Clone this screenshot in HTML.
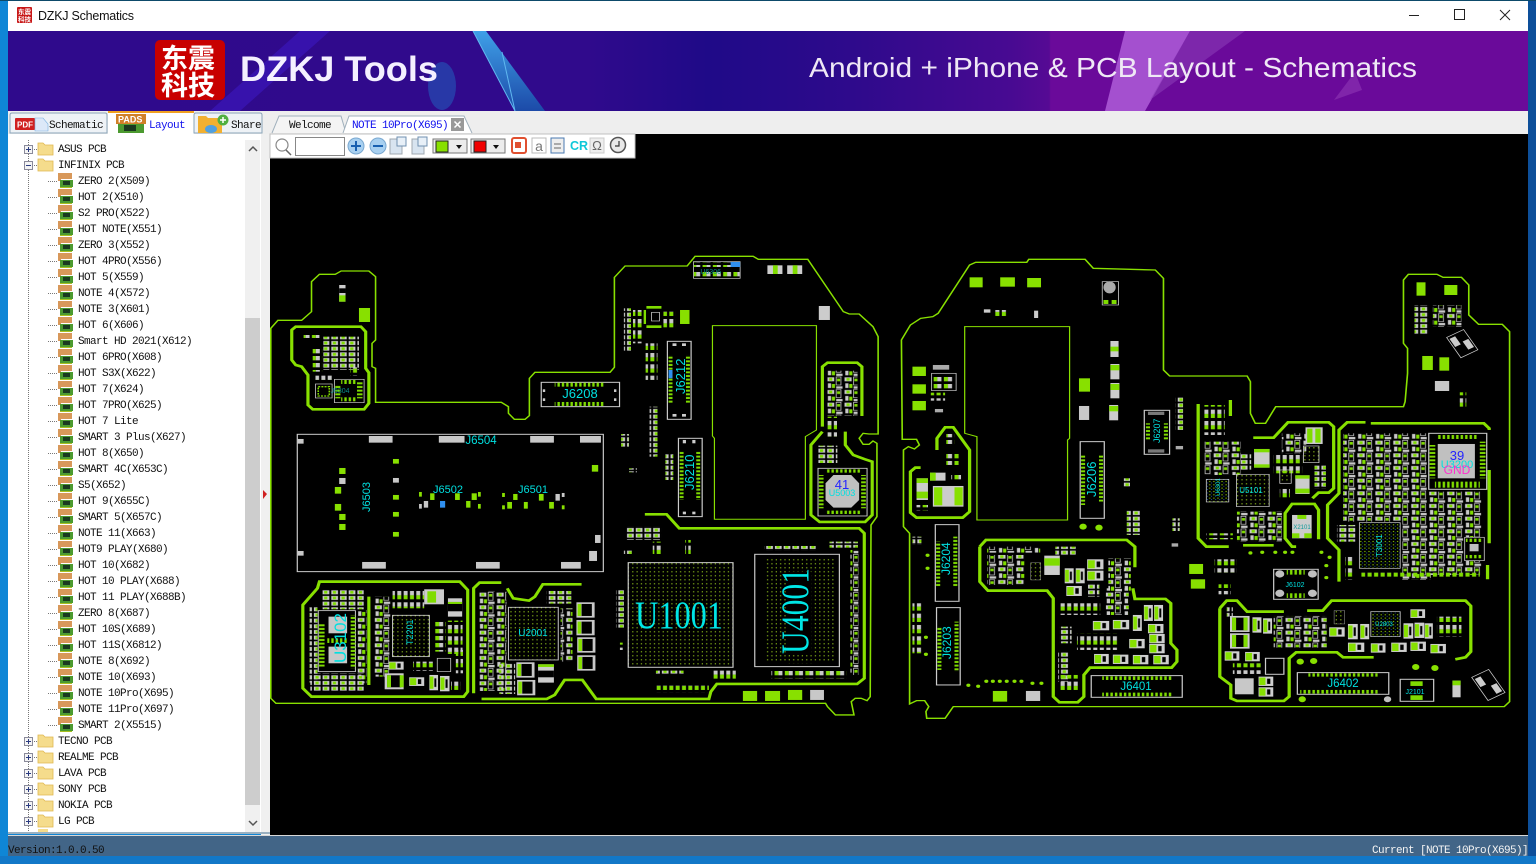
<!DOCTYPE html>
<html><head><meta charset="utf-8"><title>DZKJ Schematics</title>
<style>
html,body{margin:0;padding:0;width:1536px;height:864px;overflow:hidden;background:#0f86d6}
svg{display:block}
.m{font-family:"Liberation Mono","Noto Sans CJK SC",monospace;font-size:11px;letter-spacing:-.6px;fill:#111}
.l{font-family:"Liberation Sans",sans-serif;fill:#00e0e0}
.s{font-family:"Liberation Serif",serif;fill:#00e6e6}
</style></head><body>
<svg width="1536" height="864" viewBox="0 0 1536 864" xmlns="http://www.w3.org/2000/svg">
<defs>
<linearGradient id="hd" x1="0" x2="1" y1="0" y2="0">
<stop offset="0" stop-color="#2f0a8c"/><stop offset=".38" stop-color="#300a8c"/><stop offset=".46" stop-color="#1f0a88"/><stop offset=".56" stop-color="#2f0a8c"/><stop offset=".66" stop-color="#480a92"/><stop offset=".685" stop-color="#560a94"/><stop offset=".686" stop-color="#6a0a9a"/><stop offset="1" stop-color="#6a0a9a"/>
</linearGradient>
<linearGradient id="gl" x1="0" x2="0" y1="0" y2="1"><stop offset="0" stop-color="#3fa0e8"/><stop offset="1" stop-color="#1c4aa8"/></linearGradient>
<pattern id="a" width="26" height="21" patternUnits="userSpaceOnUse"><rect x="2" y="3" width="10" height="13" fill="#7fdc00"/><rect x="12" y="3" width="10" height="13" fill="#c8c8c8"/></pattern>
<pattern id="b" width="16" height="34" patternUnits="userSpaceOnUse"><rect x="2" y="3" width="10" height="13" fill="#c8c8c8"/><rect x="2" y="16" width="10" height="12" fill="#7fdc00"/></pattern>
<pattern id="d" width="22" height="17" patternUnits="userSpaceOnUse"><rect x="1" y="1" width="17" height="12" fill="#c8c8c8"/><rect x="5" y="3" width="8" height="8" fill="#7fdc00"/></pattern>
<pattern id="e" width="44" height="38" patternUnits="userSpaceOnUse"><rect x="1" y="2" width="18" height="12" fill="#c8c8c8"/><rect x="6" y="4" width="8" height="8" fill="#7fdc00"/><rect x="24" y="1" width="12" height="24" fill="none" stroke="#c8c8c8" stroke-width="2"/><rect x="26" y="6" width="8" height="8" fill="#7fdc00"/><rect x="3" y="20" width="8" height="14" fill="#c8c8c8"/><rect x="13" y="22" width="8" height="12" fill="#7fdc00"/><rect x="24" y="29" width="16" height="7" fill="#c8c8c8"/></pattern>
<pattern id="P" patternUnits="objectBoundingBox" patternContentUnits="objectBoundingBox" width="1" height="1"><rect width="1" height="1" fill="#cfcfcf"/><rect x=".05" y=".1" width=".42" height=".8" fill="#86e000"/><rect x=".58" y=".22" width=".22" height=".56" fill="#000"/></pattern>
<pattern id="g" width="11" height="12" patternUnits="userSpaceOnUse"><rect x="3" y="4" width="3" height="3" fill="#a4dc20"/></pattern>
<pattern id="h" width="10" height="10" patternUnits="userSpaceOnUse"><rect x="2" y="3" width="3" height="3" fill="#90d800"/><rect x="7" y="8" width="2" height="2" fill="#3090f0"/></pattern>
<pattern id="ts" width="11" height="12" patternUnits="userSpaceOnUse"><rect x="1" width="6" height="12" fill="#7fdc00"/></pattern>
<pattern id="tv" width="12" height="11" patternUnits="userSpaceOnUse"><rect y="1" width="12" height="6" fill="#7fdc00"/></pattern>
<pattern id="tree" width="17" height="16" patternUnits="userSpaceOnUse" patternTransform="translate(57 173)">
<rect x="1" y="0" width="14" height="6" fill="#d8985a"/><rect x="1" y="6" width="3" height="2" fill="#d8985a"/><rect x="3" y="7" width="13" height="7" fill="#4c9a30"/><rect x="6" y="8" width="7" height="4" fill="#1a3a20"/><rect x="3" y="14" width="12" height="1" fill="#a8c020"/>
</pattern>
<pattern id="dv" width="2" height="2" patternUnits="userSpaceOnUse"><rect width="1" height="1" fill="#777"/></pattern>
<pattern id="dh" width="2" height="16" patternUnits="userSpaceOnUse" patternTransform="translate(48 181)"><rect width="1" height="1" fill="#777"/></pattern>
<g id="fold"><path d="M0 2h5l2 2h8v10H0z" fill="#f5dc8c" stroke="#e0b850" stroke-width=".8"/></g>
<g id="plus"><rect x=".5" y=".5" width="8" height="8" fill="#f4f4f4" stroke="#8a8a9a"/><path d="M2 4.5h5M4.5 2v5" stroke="#2a3a80"/><path d="M10 4.500h4" stroke="#777" stroke-dasharray="1 1"/></g>
<g id="minus"><rect x=".5" y=".5" width="8" height="8" fill="#f4f4f4" stroke="#8a8a9a"/><path d="M2 4.5h5" stroke="#2a3a80"/><path d="M10 4.500h4" stroke="#777" stroke-dasharray="1 1"/></g>
</defs>

<!-- frame -->
<rect width="1536" height="864" fill="#0f86d6"/>
<rect x="1528" width="8" height="864" fill="#0d4f9a"/>
<rect x="0" y="856" width="1536" height="8" fill="#1278c8"/>
<rect width="1536" height="1" fill="#0d4a6a"/>
<rect x="8" y="1" width="1520" height="30" fill="#fff"/>
<rect x="17" y="7" width="15" height="16" rx="1" fill="#c81818"/>
<text x="18" y="14" font-family="'Noto Sans CJK SC',sans-serif" font-size="6.5" font-weight="700" fill="#fff">东震</text>
<text x="18" y="21.5" font-family="'Noto Sans CJK SC',sans-serif" font-size="6.5" font-weight="700" fill="#fff">科技</text>
<text x="38" y="20" font-family="'Liberation Sans',sans-serif" font-size="12.5" fill="#111" textLength="96">DZKJ Schematics</text>
<path d="M1409 15.5h10" stroke="#222"/><rect x="1454.5" y="9.5" width="10" height="10" fill="none" stroke="#222"/><path d="M1500 10l10 10M1510 10l-10 10" stroke="#222"/>

<!-- banner -->
<rect x="8" y="31" width="1520" height="80" fill="url(#hd)"/>
<polygon points="210,111 300,31 330,31 240,111" fill="#3a14b4" opacity=".8"/>
<polygon points="473,31 486,31 545,111 515,111" fill="url(#gl)"/>
<path d="M473 31L515 111M502 52L515 111" stroke="#60b8f0" fill="none"/>
<ellipse cx="442" cy="86" rx="14" ry="24" fill="#2070c8" opacity=".45"/>
<polygon points="1125,31 1190,31 1145,111 1105,111" fill="#b868e0" opacity=".75"/>
<polygon points="1190,31 1245,31 1150,100" fill="#8a3ab8" opacity=".6"/>
<polygon points="1355,72 1362,90 1334,100" fill="#8a30b0" opacity=".7"/>
<rect x="155" y="40" width="70" height="60" rx="5" fill="#c80000"/>
<g font-family="'Noto Sans CJK SC',sans-serif" font-size="27" font-weight="700" fill="#fff">
<text x="161" y="68">东震</text><text x="161" y="95">科技</text></g>
<text x="240" y="81" font-family="'Liberation Sans',sans-serif" font-size="35" font-weight="700" fill="#f4f0ff" textLength="198" lengthAdjust="spacingAndGlyphs">DZKJ Tools</text>
<text x="809" y="77" font-family="'Liberation Sans',sans-serif" font-size="28" fill="#efe8f5" textLength="608" lengthAdjust="spacingAndGlyphs">Android + iPhone &amp; PCB Layout - Schematics</text>

<!-- tab strip -->
<rect x="8" y="111" width="1520" height="23" fill="#eeeeee"/>
<path d="M10 133v-18q0-2 2-2h93q2 0 2 2v18z" fill="#eef2f6" stroke="#8aa4b8"/>
<rect x="15" y="118" width="20" height="12" rx="1" fill="#d02020"/><text x="17" y="127.5" font-family="'Liberation Sans',sans-serif" font-size="8" font-weight="700" fill="#fff">PDF</text>
<polygon points="35,118 43,118 48,124 48,131 35,131" fill="#dce8f8" stroke="#7ab0e0" stroke-width=".6"/>
<text x="49" y="128" class="m">Schematic</text>
<rect x="108" y="112" width="86" height="22" fill="#fff"/><rect x="108" y="111" width="86" height="2" fill="#f0a020"/>
<rect x="116" y="114" width="30" height="10" fill="#d08028"/><text x="118" y="122.5" font-family="'Liberation Sans',sans-serif" font-size="9" font-weight="700" fill="#fff">PADS</text>
<rect x="118" y="124" width="26" height="9" fill="#4c9a30"/><rect x="124" y="125" width="12" height="6" fill="#1a3a20"/>
<text x="149" y="128" class="m" style="fill:#1010ee">Layout</text>
<path d="M194 133v-18q0-2 2-2h64q2 0 2 2v18z" fill="#eef2f6" stroke="#8aa4b8"/>
<path d="M198 116h8l2 2h14v15h-24z" fill="#f2b030"/><ellipse cx="211" cy="129" rx="6" ry="4" fill="#50a0e0"/><circle cx="223" cy="120" r="5.5" fill="#50b040"/><path d="M220 120h6M223 117v6" stroke="#fff" stroke-width="1.5"/>
<text x="231" y="128" class="m">Share</text>
<path d="M272 133l7-17h62l5 17" fill="#f4f4f4" stroke="#a0b0bc"/>
<text x="289" y="128" class="m">Welcome</text>
<path d="M343 133l6-17h115l8 17" fill="#fff" stroke="#a0b0bc"/>
<text x="352" y="128" class="m" style="fill:#1010ee">NOTE 10Pro(X695)</text>
<rect x="451" y="118" width="13" height="13" fill="#999"/><path d="M454.500 121.500l6 6M460.500 121.500l-6 6" stroke="#fff" stroke-width="1.500"/>

<!-- sidebar -->
<rect x="8" y="134" width="253" height="698" fill="#fff"/>
<rect x="261" y="134" width="9" height="702" fill="#f0f0f0"/>
<polygon points="263,490 267,494 263,499" fill="#d02020"/>
<rect x="245" y="140" width="15" height="692" fill="#f0f0f0"/><rect x="245" y="318" width="15" height="487" fill="#cdcdcd"/>
<path d="M249 151l4-4 4 4M249 821l4 4 4-4" fill="none" stroke="#555" stroke-width="1.500"/>
<rect x="8" y="832" width="262" height="2" fill="#9ab0c0"/>
<rect x="28" y="140" width="1" height="692" fill="url(#dv)"/>
<rect x="47" y="172" width="1" height="552" fill="url(#dv)"/>
<rect x="48" y="181" width="9" height="545" fill="url(#dh)"/>
<rect x="57" y="173" width="17" height="560" fill="url(#tree)"/>
<use href="#plus" x="24" y="145"/><use href="#fold" x="38" y="141"/>
<use href="#minus" x="24" y="161"/><use href="#fold" x="38" y="157"/>
<use href="#plus" x="24" y="737"/><use href="#fold" x="38" y="733"/>
<use href="#plus" x="24" y="753"/><use href="#fold" x="38" y="749"/>
<use href="#plus" x="24" y="769"/><use href="#fold" x="38" y="765"/>
<use href="#plus" x="24" y="785"/><use href="#fold" x="38" y="781"/>
<use href="#plus" x="24" y="801"/><use href="#fold" x="38" y="797"/>
<use href="#plus" x="24" y="817"/><use href="#fold" x="38" y="813"/>
<rect x="38" y="829" width="10" height="3" fill="#f5dc8c"/>
<g class="m" transform="translate(0 -1)">
<text x="58" y="153" class="m">ASUS PCB</text><text x="58" y="169" class="m">INFINIX PCB</text>
<text x="78" y="185" class="m">ZERO 2(X509)</text><text x="78" y="201" class="m">HOT 2(X510)</text><text x="78" y="217" class="m">S2 PRO(X522)</text><text x="78" y="233" class="m">HOT NOTE(X551)</text><text x="78" y="249" class="m">ZERO 3(X552)</text><text x="78" y="265" class="m">HOT 4PRO(X556)</text><text x="78" y="281" class="m">HOT 5(X559)</text><text x="78" y="297" class="m">NOTE 4(X572)</text><text x="78" y="313" class="m">NOTE 3(X601)</text><text x="78" y="329" class="m">HOT 6(X606)</text><text x="78" y="345" class="m">Smart HD 2021(X612)</text><text x="78" y="361" class="m">HOT 6PRO(X608)</text><text x="78" y="377" class="m">HOT S3X(X622)</text><text x="78" y="393" class="m">HOT 7(X624)</text><text x="78" y="409" class="m">HOT 7PRO(X625)</text><text x="78" y="425" class="m">HOT 7 Lite</text><text x="78" y="441" class="m">SMART 3 Plus(X627)</text><text x="78" y="457" class="m">HOT 8(X650)</text><text x="78" y="473" class="m">SMART 4C(X653C)</text><text x="78" y="489" class="m">S5(X652)</text><text x="78" y="505" class="m">HOT 9(X655C)</text><text x="78" y="521" class="m">SMART 5(X657C)</text><text x="78" y="537" class="m">NOTE 11(X663)</text><text x="78" y="553" class="m">HOT9 PLAY(X680)</text><text x="78" y="569" class="m">HOT 10(X682)</text><text x="78" y="585" class="m">HOT 10 PLAY(X688)</text><text x="78" y="601" class="m">HOT 11 PLAY(X688B)</text><text x="78" y="617" class="m">ZERO 8(X687)</text><text x="78" y="633" class="m">HOT 10S(X689)</text><text x="78" y="649" class="m">HOT 11S(X6812)</text><text x="78" y="665" class="m">NOTE 8(X692)</text><text x="78" y="681" class="m">NOTE 10(X693)</text><text x="78" y="697" class="m">NOTE 10Pro(X695)</text><text x="78" y="713" class="m">NOTE 11Pro(X697)</text><text x="78" y="729" class="m">SMART 2(X5515)</text>
<text x="58" y="745" class="m">TECNO PCB</text><text x="58" y="761" class="m">REALME PCB</text><text x="58" y="777" class="m">LAVA PCB</text><text x="58" y="793" class="m">SONY PCB</text><text x="58" y="809" class="m">NOKIA PCB</text><text x="58" y="825" class="m">LG PCB</text>
</g>

<!-- canvas -->
<rect x="270" y="134" width="1258" height="701" fill="#000"/>

<!-- left board -->
<g transform="translate(270 250) scale(.3954 .3333)">
<path d="M2 235L20 211H80L105 185V95L125 73H165L180 63H250L267 80V270L258 280V350L267 355V457H585L603 470V490L618 508H645L656 497V385L670 367H860L871 352V82L898 48H1055L1075 19H1222L1235 28H1360L1450 185L1465 192H1490L1525 230L1538 260V552H1515L1500 550L1490 565L1500 583H1515L1525 573L1535 580V800L1520 825L1518 1340L1510 1352L1495 1345H1480L1470 1355L1477 1395H1430L1410 1370L1405 1360H15L2 1345Z" fill="none" stroke="#88e000" stroke-width="4"/>
<path d="M1119 227H1382V540L1354 560V808H1124V565L1119 558Z" fill="none" stroke="#88e000" stroke-width="3"/>
<g fill="none" stroke="#88e000" stroke-width="8">
<path d="M55 240L65 230H230L242 245V355L250 368V460L238 478H108L96 465V375L80 350L65 345L55 330Z"/>
<path d="M1397 530V350L1410 338H1485L1497 350V498M1397 545L1368 585V795L1390 816H1505L1523 795V635L1505 628L1475 615L1455 585V545"/>
<path d="M948 793H1003L1035 835H1490L1503 850V1285L1485 1302H1130L1115 1325L1110 1347H825L790 1290H745L720 1335L700 1347H535"/>
<path d="M83 1065L120 1015L125 995H480L500 1020V1325L490 1340H105L83 1315Z"/>
<path d="M515 1330V1015L530 998H585M600 1015L615 1045L655 1052L670 1040L690 1003H788"/>
<path d="M250 1040V1305"/>
</g>
<!-- J6304 block -->
<rect x="85" y="255" width="40" height="9" fill="url(#a)"/>
<rect x="135" y="260" width="90" height="100" fill="url(#d)"/>
<rect x="108" y="295" width="24" height="70" fill="url(#a)"/>
<rect x="115" y="372" width="42" height="18" fill="url(#b)"/><rect x="203" y="352" width="22" height="26" fill="url(#b)"/>
<rect x="115" y="402" width="42" height="42" fill="#000" stroke="#ccc" stroke-width="2"/><rect x="122" y="410" width="28" height="28" fill="none" stroke="#7fdc00" stroke-width="4" stroke-dasharray="5 3"/>
<rect x="163" y="388" width="75" height="70" fill="#000" stroke="#ccc" stroke-width="2"/>
<rect x="180" y="390" width="40" height="12" fill="url(#ts)"/><rect x="180" y="442" width="40" height="12" fill="url(#ts)"/><rect x="165" y="405" width="13" height="40" fill="url(#tv)"/><rect x="220" y="395" width="14" height="50" fill="url(#tv)"/>
<rect x="175" y="105" width="16" height="50" fill="#ccc"/><rect x="175" y="115" width="16" height="14" fill="#000"/><rect x="175" y="136" width="16" height="19" fill="#7fdc00"/>
<rect x="225" y="174" width="28" height="42" fill="#88e000"/>
<!-- J6306 top -->
<rect x="1071" y="35" width="118" height="50" fill="none" stroke="#ccc" stroke-width="2"/>
<rect x="1072" y="36" width="116" height="15" fill="url(#a)"/><rect x="1072" y="66" width="116" height="15" fill="url(#a)"/><rect x="1165" y="36" width="24" height="15" fill="#3090f0"/>
<rect x="1258" y="46" width="38" height="26" fill="#ccc"/><rect x="1272" y="46" width="12" height="26" fill="#7fdc00"/><rect x="1308" y="46" width="38" height="26" fill="#ccc"/><rect x="1322" y="46" width="12" height="26" fill="#7fdc00"/>
<rect x="1388" y="168" width="28" height="42" fill="#ccc"/>
<rect x="1037" y="180" width="24" height="42" fill="#88e000"/>
<rect x="952" y="168" width="38" height="8" fill="#7fdc00"/><rect x="952" y="226" width="38" height="8" fill="#7fdc00"/><rect x="945" y="180" width="6" height="42" fill="#7fdc00"/><rect x="965" y="187" width="20" height="26" fill="none" stroke="#ccc" stroke-width="2"/>
<rect x="895" y="175" width="18" height="128" fill="url(#d)"/><rect x="918" y="180" width="22" height="100" fill="url(#b)"/><rect x="995" y="185" width="30" height="55" fill="url(#b)"/>
<rect x="950" y="280" width="30" height="110" fill="url(#b)"/>
<!-- J6212 / J6210 -->
<rect x="1005" y="274" width="60" height="234" fill="#000" stroke="#ccc" stroke-width="3"/>
<rect x="1008" y="315" width="10" height="145" fill="url(#tv)"/><rect x="1052" y="315" width="10" height="145" fill="url(#tv)"/><rect x="1008" y="360" width="10" height="25" fill="#3090f0"/>
<rect x="1018" y="280" width="10" height="8" fill="#ccc"/><rect x="1042" y="280" width="10" height="8" fill="#ccc"/><rect x="1018" y="492" width="10" height="8" fill="#ccc"/><rect x="1042" y="492" width="10" height="8" fill="#ccc"/>
<rect x="1033" y="565" width="60" height="235" fill="#000" stroke="#ccc" stroke-width="3"/>
<rect x="1036" y="605" width="10" height="145" fill="url(#tv)"/><rect x="1078" y="605" width="10" height="145" fill="url(#tv)"/>
<rect x="1044" y="570" width="8" height="10" fill="#ccc"/><rect x="1068" y="570" width="8" height="10" fill="#ccc"/><rect x="1044" y="785" width="8" height="8" fill="#ccc"/><rect x="1068" y="785" width="8" height="8" fill="#ccc"/>
<rect x="960" y="470" width="20" height="150" fill="url(#d)"/><rect x="888" y="552" width="20" height="38" fill="url(#d)"/><rect x="1000" y="610" width="20" height="80" fill="url(#d)"/><rect x="908" y="655" width="20" height="12" fill="url(#d)"/>
<!-- J6208 -->
<rect x="686" y="397" width="198" height="73" fill="#000" stroke="#ccc" stroke-width="3"/>
<rect x="720" y="398" width="125" height="12" fill="url(#ts)"/><rect x="720" y="456" width="125" height="12" fill="url(#ts)"/>
<rect x="690" y="418" width="6" height="8" fill="#ccc"/><rect x="690" y="445" width="6" height="8" fill="#ccc"/><rect x="870" y="418" width="6" height="8" fill="#ccc"/><rect x="870" y="445" width="6" height="8" fill="#ccc"/>
<!-- J6504 box -->
<rect x="69" y="553" width="774" height="412" fill="none" stroke="#ccc" stroke-width="3"/>
<g fill="#c8c8c8"><rect x="250" y="558" width="60" height="20"/><rect x="427" y="558" width="65" height="20"/><rect x="658" y="558" width="60" height="20"/><rect x="784" y="558" width="53" height="20"/><rect x="233" y="936" width="60" height="20"/><rect x="521" y="936" width="60" height="20"/><rect x="736" y="936" width="50" height="20"/><rect x="70" y="567" width="15" height="14"/><rect x="70" y="903" width="15" height="14"/><rect x="822" y="855" width="14" height="24"/><rect x="807" y="903" width="20" height="30"/><rect x="175" y="684" width="16" height="18"/><rect x="311" y="684" width="15" height="14"/><rect x="389" y="753" width="11" height="20"/><rect x="377" y="762" width="7" height="14"/><rect x="722" y="732" width="11" height="20"/><rect x="738" y="729" width="7" height="12"/></g>
<g fill="#88e000"><rect x="175" y="654" width="16" height="18"/><rect x="164" y="711" width="16" height="20"/><rect x="164" y="762" width="16" height="20"/><rect x="175" y="792" width="16" height="18"/><rect x="175" y="822" width="16" height="18"/><rect x="311" y="627" width="15" height="14"/><rect x="311" y="735" width="15" height="14"/><rect x="311" y="786" width="15" height="14"/><rect x="311" y="846" width="15" height="14"/><rect x="814" y="645" width="16" height="20"/><rect x="377" y="726" width="7" height="14"/><rect x="405" y="730" width="11" height="20"/><rect x="468" y="730" width="12" height="20"/><rect x="510" y="730" width="13" height="20"/><rect x="526" y="726" width="7" height="14"/><rect x="496" y="753" width="11" height="20"/><rect x="526" y="762" width="7" height="14"/><rect x="587" y="729" width="7" height="12"/><rect x="615" y="732" width="11" height="18"/><rect x="680" y="732" width="12" height="20"/><rect x="587" y="766" width="7" height="12"/><rect x="600" y="756" width="12" height="20"/><rect x="642" y="756" width="10" height="20"/><rect x="706" y="756" width="12" height="20"/><rect x="738" y="766" width="7" height="12"/><rect x="1196" y="1323" width="36" height="30"/><rect x="1252" y="1323" width="38" height="30"/><rect x="1310" y="1320" width="36" height="30"/></g>
<rect x="430" y="753" width="13" height="20" fill="#3090f0"/>
<rect x="1366" y="1320" width="35" height="30" fill="#c8c8c8"/>
<!-- U5003 block -->
<rect x="1410" y="362" width="76" height="135" fill="url(#e)"/>
<rect x="1410" y="500" width="24" height="60" fill="url(#b)"/>
<rect x="1385" y="587" width="50" height="52" fill="url(#d)"/>
<rect x="1386" y="655" width="124" height="143" fill="#000" stroke="#ccc" stroke-width="2.500"/>
<rect x="1405" y="658" width="90" height="10" fill="url(#ts)"/><rect x="1405" y="782" width="90" height="10" fill="url(#ts)"/><rect x="1388" y="675" width="12" height="100" fill="url(#tv)"/><rect x="1495" y="675" width="12" height="100" fill="url(#tv)"/>
<polygon points="1425,675 1470,675 1490,700 1490,750 1470,773 1425,773 1405,750 1405,700" fill="#c0c0c0"/>
<!-- U1001 U4001 -->
<rect x="906" y="938" width="265" height="314" fill="url(#g)" stroke="#ccc" stroke-width="3"/>
<rect x="1226" y="913" width="214" height="337" fill="#000" stroke="#ccc" stroke-width="3"/>
<rect x="1250" y="925" width="60" height="310" fill="url(#g)"/><rect x="1370" y="925" width="60" height="310" fill="url(#g)"/><rect x="1310" y="925" width="60" height="40" fill="url(#g)"/><rect x="1310" y="1210" width="60" height="30" fill="url(#g)"/>
<rect x="900" y="830" width="90" height="40" fill="url(#d)"/><rect x="895" y="900" width="20" height="12" fill="url(#d)"/><rect x="968" y="875" width="22" height="40" fill="url(#b)"/><rect x="1050" y="870" width="14" height="50" fill="url(#b)"/>
<rect x="1250" y="888" width="130" height="13" fill="url(#d)"/><rect x="1415" y="875" width="72" height="18" fill="url(#d)"/>
<rect x="1468" y="900" width="20" height="375" fill="url(#e)"/>
<rect x="875" y="1018" width="20" height="115" fill="url(#d)"/><rect x="885" y="1178" width="10" height="22" fill="url(#b)"/>
<rect x="976" y="1262" width="70" height="13" fill="url(#d)"/><rect x="1118" y="1262" width="60" height="28" fill="url(#b)"/>
<rect x="975" y="1307" width="135" height="22" fill="url(#b)"/>
<rect x="1268" y="1263" width="190" height="22" fill="url(#a)"/>
<!-- bottom-left block -->
<rect x="132" y="1018" width="105" height="60" fill="url(#d)"/>
<rect x="100" y="1068" width="20" height="230" fill="url(#d)"/>
<rect x="122" y="1082" width="94" height="183" fill="#000" stroke="#ccc" stroke-width="2.500"/>
<rect x="124" y="1120" width="14" height="130" fill="url(#tv)"/><rect x="204" y="1095" width="12" height="160" fill="url(#tv)"/>
<rect x="148" y="1100" width="47" height="50" fill="#c8c8c8"/><rect x="148" y="1190" width="47" height="50" fill="#c8c8c8"/><rect x="145" y="1165" width="50" height="14" fill="url(#ts)"/>
<rect x="222" y="1080" width="22" height="220" fill="url(#e)"/><rect x="102" y="1270" width="135" height="55" fill="url(#d)"/>
<rect x="262" y="1040" width="44" height="60" fill="url(#e)"/><rect x="262" y="1100" width="40" height="180" fill="url(#e)"/>
<rect x="310" y="1020" width="80" height="55" fill="url(#b)"/>
<rect x="310" y="1096" width="93" height="124" fill="url(#g)" stroke="#ccc" stroke-width="2.500"/>
<rect x="415" y="1115" width="30" height="90" fill="url(#a)"/><rect x="447" y="1112" width="40" height="100" fill="url(#b)"/><rect x="470" y="1200" width="18" height="70" fill="url(#b)"/>
<rect x="390" y="1018" width="50" height="45" fill="#ccc"/><rect x="398" y="1024" width="22" height="34" fill="#7fdc00"/>
<rect x="450" y="1045" width="36" height="55" fill="#ccc"/><rect x="450" y="1056" width="36" height="28" fill="#000"/><rect x="450" y="1056" width="36" height="6" fill="#7fdc00"/>
<rect x="290" y="1270" width="48" height="48" fill="#ccc"/><rect x="296" y="1276" width="36" height="36" fill="#000"/><rect x="296" y="1276" width="10" height="36" fill="#7fdc00"/><rect x="328" y="1276" width="10" height="36" fill="#7fdc00"/>
<rect x="300" y="1235" width="38" height="24" fill="url(#P)"/>
<rect x="352" y="1282" width="38" height="26" fill="url(#P)"/><rect x="403" y="1275" width="22" height="46" fill="url(#P)"/><rect x="430" y="1278" width="24" height="46" fill="url(#P)"/><rect x="458" y="1290" width="24" height="30" fill="url(#b)"/>
<rect x="423" y="1225" width="34" height="40" fill="none" stroke="#ccc" stroke-width="2"/>
<rect x="362" y="1235" width="50" height="28" fill="url(#b)"/>
<!-- U2001 block -->
<rect x="530" y="1023" width="68" height="300" fill="url(#e)"/>
<rect x="603" y="1072" width="126" height="158" fill="url(#g)" stroke="#ccc" stroke-width="2.500"/>
<rect x="700" y="1023" width="62" height="38" fill="url(#d)"/><rect x="735" y="1075" width="30" height="160" fill="url(#e)"/>
<rect x="580" y="1240" width="40" height="92" fill="url(#d)"/>
<g fill="#c8c8c8"><rect x="775" y="1057" width="46" height="46"/><rect x="775" y="1110" width="46" height="46"/><rect x="777" y="1162" width="46" height="46"/><rect x="777" y="1216" width="46" height="46"/><rect x="623" y="1237" width="46" height="46"/><rect x="625" y="1290" width="46" height="46"/></g>
<g fill="#000"><rect x="788" y="1062" width="26" height="36"/><rect x="788" y="1115" width="26" height="36"/><rect x="790" y="1167" width="26" height="36"/><rect x="790" y="1221" width="26" height="36"/><rect x="636" y="1242" width="26" height="36"/><rect x="638" y="1295" width="26" height="36"/></g>
<g fill="#86e000"><rect x="778" y="1062" width="9" height="36"/><rect x="778" y="1115" width="9" height="36"/><rect x="780" y="1167" width="9" height="36"/><rect x="780" y="1221" width="9" height="36"/><rect x="626" y="1242" width="9" height="36"/><rect x="628" y="1295" width="9" height="36"/></g>
<rect x="678" y="1243" width="40" height="55" fill="#ccc"/><rect x="678" y="1262" width="40" height="20" fill="#000"/><rect x="678" y="1243" width="40" height="8" fill="#7fdc00"/>
</g>

<!-- right board -->
<g transform="translate(890 250) scale(.40816 .3333)">
<path d="M33 830V600L45 590L60 597L72 585L65 568H30L28 270L50 225L75 205L105 200L118 190L195 45L210 37H335L340 28H478L498 55L650 60L670 85V360L685 378H875L883 395V490L895 520H920L935 490L945 470H1258L1262 455L1268 370V295L1258 280V90L1270 73H1340L1355 82H1400L1418 105V195L1442 223H1500L1518 245V1355L1505 1370H155L135 1405H90L88 1385L95 1370L85 1352H65L48 1362V850Z" fill="none" stroke="#88e000" stroke-width="4"/>
<path d="M183 230H440V565L435 570V810H213V560L183 550Z" fill="none" stroke="#88e000" stroke-width="3"/>
<g fill="none" stroke="#88e000" stroke-width="8">
<path d="M115 600V565L135 532H155L195 600V785L178 803H65L50 788V665L62 653H75"/>
<path d="M220 890L235 870H580L600 890V952M220 890V995L240 1022H385L400 1045V1340L415 1357H460L475 1340V1275L490 1253H690L703 1235V1200L688 1180V1060L675 1047H600L595 1015"/>
<path d="M755 462V865L775 890H830M865 886H940M890 563H940L975 517H1075L1087 530V715L1075 728H1050L1035 745"/>
<path d="M1050 868V780L1040 762H985L968 790V865L985 890H995"/>
<path d="M834 450V498M1100 995V900L1072 865V765L1100 730V540L1120 517H1165M1178 520H1455L1468 535V540M1468 660V880M1464 945V988"/>
<path d="M808 1075L825 1052H850L875 1085H965M1022 1082H1060L1082 1052H1410L1423 1068V1205L1410 1222L1385 1228M808 1075V1280L835 1305V1345L850 1353H965L978 1340V1225L995 1207H1095L1110 1222H1185"/>
</g>
<g fill="#88e000"><rect x="195" y="82" width="32" height="30"/><rect x="270" y="82" width="36" height="28"/><rect x="336" y="84" width="34" height="28"/><rect x="55" y="350" width="33" height="28"/><rect x="55" y="403" width="33" height="28"/><rect x="55" y="453" width="33" height="28"/><rect x="463" y="385" width="27" height="40"/><rect x="733" y="942" width="34" height="30"/><rect x="737" y="988" width="35" height="28"/><rect x="252" y="1323" width="35" height="32"/><rect x="1290" y="97" width="22" height="40"/><rect x="1358" y="105" width="32" height="30"/><rect x="1304" y="318" width="26" height="42"/><rect x="1346" y="322" width="24" height="40"/></g>
<g fill="#c8c8c8"><rect x="463" y="468" width="25" height="42"/><rect x="333" y="1323" width="35" height="30"/><rect x="1335" y="393" width="35" height="30"/></g>
<!-- screw top -->
<rect x="520" y="95" width="40" height="70" fill="#000" stroke="#ccc" stroke-width="2"/><ellipse cx="538" cy="112" rx="15" ry="18" fill="#aaa"/><rect x="523" y="150" width="12" height="12" fill="#7fdc00"/><rect x="543" y="150" width="12" height="12" fill="#7fdc00"/>
<rect x="255" y="180" width="32" height="24" fill="url(#b)"/><rect x="230" y="178" width="16" height="10" fill="#ccc"/><rect x="353" y="182" width="10" height="22" fill="#ccc"/>
<g><rect x="540" y="273" width="20" height="48" fill="#ccc"/><rect x="540" y="290" width="20" height="14" fill="#7fdc00"/><rect x="540" y="342" width="22" height="46" fill="#ccc"/><rect x="540" y="345" width="22" height="16" fill="#7fdc00"/><rect x="540" y="399" width="22" height="46" fill="#ccc"/><rect x="540" y="402" width="22" height="18" fill="#7fdc00"/><rect x="537" y="465" width="22" height="46" fill="#ccc"/><rect x="537" y="468" width="22" height="16" fill="#7fdc00"/></g>
<rect x="102" y="370" width="60" height="52" fill="none" stroke="#ccc" stroke-width="2"/><rect x="107" y="374" width="50" height="44" fill="url(#a)"/>
<rect x="100" y="428" width="35" height="24" fill="url(#b)"/><rect x="105" y="345" width="40" height="14" fill="#aaa"/><rect x="110" y="477" width="20" height="10" fill="#aaa"/>
<!-- left blob parts -->
<rect x="138" y="605" width="30" height="40" fill="url(#a)"/><rect x="138" y="552" width="20" height="30" fill="url(#a)"/>
<rect x="98" y="668" width="38" height="24" fill="#ccc"/><rect x="98" y="668" width="14" height="24" fill="#7fdc00"/>
<rect x="65" y="685" width="28" height="65" fill="#ccc"/><rect x="65" y="685" width="28" height="14" fill="#7fdc00"/><rect x="65" y="725" width="28" height="20" fill="#7fdc00"/>
<rect x="105" y="708" width="75" height="62" fill="#ccc"/><rect x="108" y="712" width="20" height="54" fill="#88e000"/><rect x="158" y="712" width="20" height="54" fill="#88e000"/>
<rect x="150" y="675" width="24" height="14" fill="url(#a)"/><rect x="65" y="765" width="28" height="16" fill="url(#a)"/>
<!-- connectors -->
<rect x="466" y="575" width="59" height="230" fill="#000" stroke="#ccc" stroke-width="3"/><rect x="468" y="615" width="10" height="150" fill="url(#tv)"/><rect x="512" y="615" width="10" height="140" fill="url(#tv)"/>
<rect x="623" y="481" width="62" height="132" fill="#000" stroke="#ccc" stroke-width="3"/><rect x="627" y="520" width="10" height="50" fill="url(#tv)"/><rect x="671" y="520" width="10" height="50" fill="url(#tv)"/><rect x="632" y="485" width="40" height="10" fill="#ccc" opacity=".6"/><rect x="632" y="598" width="40" height="10" fill="#ccc" opacity=".6"/>
<rect x="700" y="440" width="18" height="100" fill="url(#d)"/><rect x="700" y="588" width="18" height="10" fill="#aaa"/>
<rect x="111" y="824" width="58" height="230" fill="#000" stroke="#ccc" stroke-width="3"/><rect x="113" y="875" width="10" height="135" fill="url(#tv)"/><rect x="155" y="860" width="10" height="150" fill="url(#tv)"/>
<rect x="114" y="1073" width="58" height="232" fill="#000" stroke="#ccc" stroke-width="3"/><rect x="116" y="1130" width="10" height="130" fill="url(#tv)"/><rect x="158" y="1115" width="10" height="150" fill="url(#tv)"/>
<rect x="55" y="860" width="22" height="25" fill="url(#d)"/><rect x="55" y="1060" width="22" height="150" fill="url(#b)"/>
<rect x="493" y="1277" width="223" height="65" fill="#000" stroke="#ccc" stroke-width="3"/><rect x="520" y="1279" width="170" height="11" fill="url(#ts)"/><rect x="520" y="1328" width="170" height="11" fill="url(#ts)"/>
<rect x="998" y="1268" width="224" height="65" fill="#000" stroke="#ccc" stroke-width="3"/><rect x="1025" y="1270" width="170" height="10" fill="url(#ts)"/><rect x="1005" y="1320" width="190" height="11" fill="url(#ts)"/>
<rect x="940" y="958" width="109" height="90" fill="#000" stroke="#ccc" stroke-width="3"/><circle cx="955" cy="972" r="11" fill="#c0c0c0"/><circle cx="1035" cy="972" r="11" fill="#c0c0c0"/><circle cx="955" cy="1030" r="11" fill="#c0c0c0"/><circle cx="1035" cy="1030" r="11" fill="#c0c0c0"/><rect x="972" y="960" width="44" height="14" fill="url(#ts)"/><rect x="972" y="1030" width="44" height="14" fill="url(#ts)"/>
<rect x="1250" y="1288" width="82" height="66" fill="#000" stroke="#ccc" stroke-width="3"/><rect x="1275" y="1294" width="30" height="14" fill="#7fdc00"/><rect x="1275" y="1336" width="30" height="14" fill="#7fdc00"/>
<rect x="1378" y="1292" width="20" height="50" fill="#ccc"/><rect x="1378" y="1292" width="20" height="14" fill="#7fdc00"/>
<!-- lower J6401 block -->
<rect x="238" y="890" width="130" height="18" fill="url(#e)"/><rect x="238" y="915" width="92" height="90" fill="url(#e)"/>
<rect x="345" y="938" width="24" height="52" fill="url(#g)" stroke="#ccc"/>
<rect x="378" y="917" width="38" height="58" fill="#ccc"/><rect x="378" y="925" width="38" height="22" fill="#7fdc00"/>
<g fill="url(#P)"><rect x="483" y="928" width="40" height="30"/><rect x="483" y="962" width="40" height="30"/><rect x="455" y="955" width="22" height="45"/><rect x="428" y="955" width="22" height="45"/><rect x="622" y="1065" width="22" height="48"/><rect x="647" y="1065" width="22" height="48"/><rect x="632" y="1122" width="38" height="28"/><rect x="635" y="1152" width="38" height="28"/><rect x="635" y="1182" width="38" height="28"/><rect x="586" y="1167" width="38" height="28"/><rect x="500" y="1212" width="36" height="30"/><rect x="546" y="1214" width="38" height="28"/><rect x="595" y="1215" width="38" height="28"/><rect x="645" y="1215" width="38" height="28"/><rect x="497" y="1113" width="40" height="28"/><rect x="546" y="1110" width="40" height="28"/><rect x="432" y="1008" width="38" height="30"/><rect x="595" y="1095" width="22" height="48"/></g>
<rect x="405" y="890" width="50" height="28" fill="url(#d)"/>
<rect x="535" y="925" width="55" height="100" fill="url(#e)"/>
<rect x="415" y="1060" width="100" height="35" fill="url(#b)"/><rect x="485" y="1000" width="28" height="40" fill="url(#d)"/><rect x="525" y="1015" width="60" height="80" fill="url(#e)"/>
<rect x="415" y="1130" width="30" height="50" fill="url(#d)"/><rect x="458" y="1150" width="100" height="50" fill="url(#b)"/>
<rect x="412" y="1205" width="25" height="90" fill="url(#d)"/><rect x="415" y="1275" width="50" height="50" fill="url(#b)"/>
<g fill="#88e000"><circle cx="92" cy="916" r="5"/><circle cx="92" cy="955" r="5"/><circle cx="88" cy="1162" r="5"/><circle cx="88" cy="1213" r="5"/><circle cx="192" cy="1306" r="5"/><circle cx="216" cy="1309" r="5"/><circle cx="236" cy="1294" r="5"/><circle cx="252" cy="1294" r="5"/><circle cx="269" cy="1294" r="5"/><circle cx="286" cy="1294" r="5"/><circle cx="305" cy="1294" r="5"/><circle cx="322" cy="1294" r="5"/><circle cx="349" cy="1300" r="5"/><circle cx="371" cy="1300" r="5"/><circle cx="473" cy="830" r="9"/><circle cx="512" cy="833" r="9"/><circle cx="883" cy="909" r="5"/><circle cx="912" cy="907" r="5"/><circle cx="944" cy="907" r="5"/><circle cx="968" cy="907" r="5"/><circle cx="986" cy="907" r="5"/><circle cx="1057" cy="907" r="5"/><circle cx="1077" cy="922" r="5"/><circle cx="1069" cy="947" r="5"/><circle cx="1069" cy="983" r="5"/><circle cx="1005" cy="1235" r="9"/><circle cx="1038" cy="1233" r="9"/><circle cx="1288" cy="1251" r="9"/><circle cx="1335" cy="1254" r="9"/><circle cx="1010" cy="1348" r="9"/></g>
<circle cx="1219" cy="1348" r="9" fill="#c0c0c0"/>
<rect x="580" y="780" width="35" height="75" fill="url(#d)"/><rect x="692" y="805" width="18" height="38" fill="url(#d)"/><rect x="572" y="685" width="16" height="24" fill="url(#d)"/><rect x="690" y="880" width="16" height="10" fill="#aaa"/>
<!-- U5101 cluster -->
<rect x="770" y="465" width="50" height="90" fill="url(#b)"/><rect x="770" y="575" width="90" height="100" fill="url(#e)"/>
<rect x="855" y="610" width="30" height="50" fill="url(#d)"/><rect x="892" y="597" width="38" height="56" fill="#ccc"/><rect x="892" y="597" width="38" height="10" fill="#7fdc00"/><rect x="892" y="643" width="38" height="10" fill="#7fdc00"/>
<rect x="940" y="610" width="70" height="60" fill="url(#b)"/><rect x="955" y="660" width="28" height="40" fill="url(#g)" stroke="#ccc" stroke-width="2"/>
<rect x="960" y="550" width="60" height="60" fill="url(#e)"/>
<rect x="1018" y="532" width="42" height="50" fill="#ccc"/><rect x="1022" y="536" width="13" height="42" fill="#7fdc00"/><rect x="1042" y="536" width="13" height="42" fill="#7fdc00"/>
<rect x="1013" y="588" width="38" height="50" fill="url(#g)" stroke="#ccc" stroke-width="2"/>
<rect x="1040" y="645" width="28" height="70" fill="url(#d)"/><rect x="993" y="676" width="35" height="56" fill="#ccc"/><rect x="993" y="676" width="35" height="10" fill="#7fdc00"/><rect x="993" y="716" width="35" height="14" fill="#7fdc00"/>
<rect x="775" y="688" width="55" height="68" fill="url(#h)" stroke="#ccc" stroke-width="2"/>
<rect x="849" y="673" width="80" height="97" fill="url(#g)" stroke="#ccc" stroke-width="2"/>
<rect x="955" y="710" width="25" height="35" fill="url(#b)"/>
<rect x="850" y="785" width="110" height="90" fill="url(#e)"/><rect x="775" y="850" width="65" height="18" fill="url(#a)"/>
<rect x="985" y="795" width="48" height="70" fill="#ccc"/><rect x="998" y="795" width="22" height="12" fill="#7fdc00"/><rect x="985" y="850" width="18" height="14" fill="#7fdc00"/><rect x="1015" y="850" width="18" height="14" fill="#7fdc00"/>
<rect x="795" y="928" width="55" height="40" fill="url(#b)"/><rect x="805" y="1003" width="30" height="30" fill="url(#b)"/>
<!-- U3200 dense -->
<rect x="1110" y="550" width="205" height="265" fill="url(#e)"/>
<rect x="1320" y="550" width="142" height="168" fill="#000" stroke="#ccc" stroke-width="3"/>
<rect x="1322" y="585" width="14" height="100" fill="url(#tv)"/><rect x="1445" y="575" width="14" height="110" fill="url(#tv)"/><rect x="1340" y="555" width="100" height="12" fill="url(#ts)"/><rect x="1335" y="695" width="110" height="18" fill="url(#ts)"/>
<rect x="1342" y="582" width="91" height="103" fill="#c0c0c0"/>
<rect x="1320" y="725" width="130" height="250" fill="url(#e)"/>
<rect x="1255" y="815" width="70" height="175" fill="url(#e)"/>
<rect x="1150" y="818" width="100" height="137" fill="url(#h)" stroke="#ccc" stroke-width="2"/>
<rect x="1408" y="862" width="48" height="70" fill="#000" stroke="#ccc" stroke-width="2"/><rect x="1420" y="882" width="22" height="22" fill="#c0c0c0"/><rect x="1411" y="866" width="40" height="10" fill="url(#ts)"/><rect x="1411" y="915" width="40" height="10" fill="url(#ts)"/>
<rect x="1155" y="968" width="290" height="20" fill="url(#b)"/><rect x="1115" y="920" width="20" height="70" fill="url(#b)"/><rect x="1095" y="825" width="45" height="50" fill="url(#d)"/>
<!-- U2803 block -->
<rect x="825" y="1070" width="15" height="30" fill="url(#d)"/>
<rect x="833" y="1098" width="48" height="48" fill="#ccc"/><rect x="838" y="1103" width="38" height="38" fill="#000"/><rect x="838" y="1103" width="10" height="38" fill="#7fdc00"/><rect x="866" y="1103" width="10" height="38" fill="#7fdc00"/>
<rect x="833" y="1150" width="48" height="46" fill="#ccc"/><rect x="838" y="1155" width="38" height="36" fill="#000"/><rect x="838" y="1155" width="10" height="36" fill="#7fdc00"/><rect x="866" y="1155" width="10" height="36" fill="#7fdc00"/>
<g fill="url(#P)"><rect x="888" y="1102" width="22" height="46"/><rect x="914" y="1105" width="22" height="46"/><rect x="1122" y="1178" width="40" height="28"/><rect x="1178" y="1180" width="36" height="28"/><rect x="1228" y="1178" width="38" height="28"/><rect x="1275" y="1175" width="38" height="28"/><rect x="1324" y="1182" width="38" height="28"/><rect x="1258" y="1120" width="24" height="46"/><rect x="1285" y="1118" width="24" height="46"/><rect x="1310" y="1120" width="20" height="46"/><rect x="1122" y="1122" width="24" height="46"/><rect x="1152" y="1122" width="22" height="46"/><rect x="1076" y="1132" width="38" height="28"/><rect x="1275" y="1078" width="36" height="26"/><rect x="820" y="1204" width="36" height="28"/><rect x="870" y="1206" width="36" height="28"/><rect x="903" y="1280" width="36" height="28"/><rect x="903" y="1312" width="36" height="28"/></g>
<rect x="940" y="1098" width="130" height="95" fill="url(#e)"/>
<rect x="1088" y="1082" width="26" height="40" fill="url(#g)" stroke="#ccc"/>
<rect x="1178" y="1085" width="72" height="75" fill="url(#h)" stroke="#ccc" stroke-width="2"/>
<rect x="840" y="1240" width="70" height="32" fill="url(#b)"/>
<rect x="920" y="1225" width="45" height="48" fill="#000" stroke="#ccc" stroke-width="3"/><rect x="845" y="1285" width="46" height="48" fill="#c8c8c8"/>
<rect x="1340" y="1100" width="60" height="60" fill="url(#b)"/>
<!-- top-right island -->
<rect x="1330" y="165" width="70" height="65" fill="url(#e)"/><rect x="1285" y="165" width="35" height="90" fill="url(#d)"/>
<g transform="translate(1402 281) rotate(-30)"><rect x="-24" y="-35" width="48" height="70" fill="#000" stroke="#ccc" stroke-width="2"/><rect x="-20" y="-28" width="16" height="28" fill="#ccc"/><rect x="4" y="-5" width="16" height="28" fill="#ccc"/></g>
<g transform="translate(1466 1305) rotate(-30)"><rect x="-24" y="-40" width="48" height="80" fill="#000" stroke="#ccc" stroke-width="2"/><rect x="-20" y="-32" width="16" height="28" fill="#ccc"/><rect x="4" y="5" width="16" height="28" fill="#ccc"/></g>
<rect x="1396" y="427" width="16" height="46" fill="url(#b)"/>
</g>

<!-- labels -->
<text x="580" y="398" class="l" font-size="13" text-anchor="middle">J6208</text>
<text x="481" y="444" class="l" font-size="11.500" text-anchor="middle">J6504</text>
<text x="448" y="493" class="l" font-size="11" text-anchor="middle">J6502</text>
<text x="533" y="493" class="l" font-size="11" text-anchor="middle">J6501</text>
<text transform="translate(370 512) rotate(-90)" class="l" font-size="11">J6503</text>
<text transform="translate(685 394) rotate(-90)" class="l" font-size="13">J6212</text>
<text transform="translate(694 490) rotate(-90)" class="l" font-size="13">J6210</text>
<text x="842" y="489" class="l" font-size="13" text-anchor="middle" style="fill:#2424ff">41</text>
<text x="842" y="496" class="l" font-size="9" text-anchor="middle">U5003</text>
<text x="721" y="274" class="l" font-size="7" text-anchor="end" style="fill:#0a8a8a">U6306</text>
<text x="340" y="393" class="l" font-size="7" text-anchor="middle" style="fill:#0a8a8a">J6304</text>
<text x="635" y="628" class="s" font-size="39" textLength="88" lengthAdjust="spacingAndGlyphs">U1001</text>
<text transform="translate(808 654) rotate(-90)" class="s" font-size="39" textLength="86" lengthAdjust="spacingAndGlyphs">U4001</text>
<text transform="translate(346 663) rotate(-90)" class="l" font-size="17" textLength="50">U3102</text>
<text transform="translate(413 645) rotate(-90)" class="l" font-size="9">T2201</text>
<text x="533" y="636" class="l" font-size="10" text-anchor="middle">U2001</text>
<text transform="translate(1096 497) rotate(-90)" class="l" font-size="13">J6206</text>
<text transform="translate(1160 443) rotate(-90)" class="l" font-size="9">J6207</text>
<text transform="translate(950 575) rotate(-90)" class="l" font-size="12">J6204</text>
<text transform="translate(951 659) rotate(-90)" class="l" font-size="12">J6203</text>
<text x="1136" y="690" class="l" font-size="11.500" text-anchor="middle">J6401</text>
<text x="1343" y="687" class="l" font-size="11.500" text-anchor="middle">J6402</text>
<text x="1295" y="587" class="l" font-size="7" text-anchor="middle">J6102</text>
<text x="1415" y="694" class="l" font-size="7" text-anchor="middle">J2101</text>
<text x="1251" y="493" class="l" font-size="8" text-anchor="middle">U5101</text>
<text transform="translate(1220 496) rotate(-90)" class="l" font-size="6">U6301</text>
<text x="1302" y="529" class="l" font-size="6" text-anchor="middle" style="fill:#0a9a9a">X2101</text>
<text transform="translate(1382 557) rotate(-90)" class="l" font-size="8">T3001</text>
<text x="1384" y="626" class="l" font-size="6" text-anchor="middle">U2803</text>
<text x="1457" y="460" class="l" font-size="13" text-anchor="middle" style="fill:#2424ff">39</text>
<text x="1457" y="468" class="l" font-size="11" text-anchor="middle">U3200</text>
<text x="1457" y="474" class="l" font-size="12" text-anchor="middle" style="fill:#ff30d0">GND</text>

<!-- toolbar -->
<rect x="270" y="134" width="365" height="24" fill="#fff" stroke="#c0c0c0"/>
<circle cx="282" cy="145" r="6" fill="none" stroke="#888" stroke-width="1.200"/><path d="M286 150l5 5" stroke="#666" stroke-width="1.500"/>
<rect x="295.500" y="137.500" width="49" height="18" fill="#fff" stroke="#888"/>
<circle cx="356" cy="146" r="8" fill="#a8d0f0" stroke="#7aa8d0"/><path d="M351 146h10M356 141v10" stroke="#1860b0" stroke-width="2"/>
<circle cx="378" cy="146" r="8" fill="#a8d0f0" stroke="#7aa8d0"/><path d="M373 146h10" stroke="#1860b0" stroke-width="2"/>
<rect x="390" y="139" width="12" height="15" fill="#d8e4f0" stroke="#a0a8b0"/><rect x="397" y="137" width="9" height="9" fill="#e8f0f8" stroke="#7090b0"/>
<rect x="412" y="139" width="12" height="15" fill="#d8e4f0" stroke="#a0a8b0"/><rect x="418" y="137" width="9" height="9" fill="#e8f0f8" stroke="#7090b0"/>
<rect x="433" y="139" width="34" height="14" fill="#ececec" stroke="#777"/><rect x="436" y="141" width="12" height="11" fill="#88e000" stroke="#222"/><path d="M456 145h6l-3 4z" fill="#111"/>
<rect x="471" y="139" width="34" height="14" fill="#ececec" stroke="#777"/><rect x="474" y="141" width="12" height="11" fill="#f00000" stroke="#222"/><path d="M493 145h6l-3 4z" fill="#111"/>
<rect x="512" y="138" width="14" height="15" rx="2" fill="#fff" stroke="#e05030" stroke-width="2"/><rect x="515" y="142" width="6" height="6" fill="#e05030"/>
<rect x="532" y="138" width="14" height="15" fill="#fff" stroke="#bbb"/><text x="539" y="151" font-family="'Liberation Sans',sans-serif" font-size="14" fill="#777" text-anchor="middle">a</text>
<rect x="551" y="138" width="13" height="15" fill="#eee" stroke="#4878b0"/><path d="M554 144h7M554 148h7" stroke="#aaa" stroke-width="2"/>
<text x="570" y="150" font-family="'Liberation Sans',sans-serif" font-size="12.500" font-weight="700" fill="#10c8d8">CR</text>
<rect x="590" y="138" width="14" height="15" fill="#eee" stroke="#ccc"/><text x="597" y="150" font-family="'Liberation Sans',sans-serif" font-size="13" fill="#666" text-anchor="middle">Ω</text>
<circle cx="618" cy="145" r="7.500" fill="#e8e8e8" stroke="#555" stroke-width="1.500"/><path d="M619 141v5h-4" fill="none" stroke="#333" stroke-width="1.200"/>

<!-- status bar -->
<rect x="8" y="835" width="1520" height="1" fill="#d8d8d8"/>
<rect x="8" y="836" width="1520" height="20" fill="#426587"/>
<text x="8" y="853" class="m">Version:1.0.0.50</text>
<text x="1372" y="853" class="m" style="fill:#f4f4f4">Current [NOTE 10Pro(X695)]</text>
</svg>
</body></html>
